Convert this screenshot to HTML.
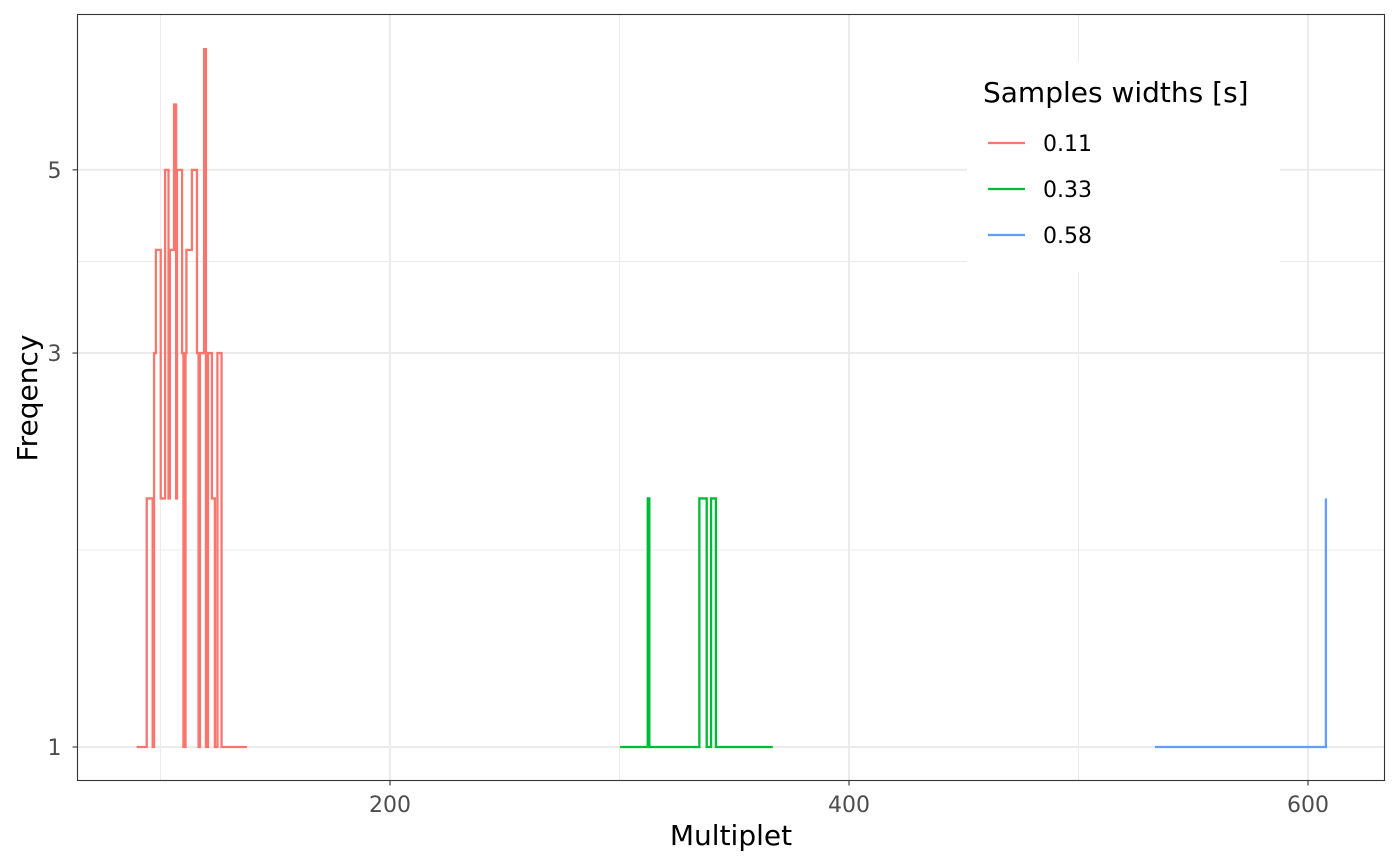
<!DOCTYPE html>
<html><head><meta charset="utf-8"><style>
body{margin:0;background:#fff;}
svg{display:block;font-family:"DejaVu Sans","Liberation Sans",sans-serif;}
</style></head><body>
<svg id="chart" width="1400" height="866">
<g id="grid"></g>
<g id="series"></g>
<rect x="77.5" y="14.5" width="1307" height="766" fill="none" stroke="#333" stroke-width="1.1"/>
<g id="axes"></g>
<text x="731" y="845" text-anchor="middle" font-size="28" fill="#000">Multiplet</text>
<text transform="translate(37,398) rotate(-90)" text-anchor="middle" font-size="28" fill="#000">Freqency</text>
<g>
<rect x="967" y="62" width="313" height="210" fill="#fff"/>
<text x="983" y="102" font-size="28" fill="#000">Samples widths [s]</text>
<g id="legend-entries"></g>
</g>
</svg>
<script>
const redX = [89.6,94.0,96.6,97.2,98.0,100.1,102.0,103.5,104.1,105.9,106.8,107.2,109.4,110.0,110.9,111.3,113.7,115.9,116.6,117.2,119.0,119.8,120.7,122.4,123.7,124.8,126.6,137.7];
const redY = [1,2,1,3,4,2,5,2,4,6,2,5,3,1,3,4,5,3,1,3,7,1,3,2,1,3,1,1];
const greenX = [300.2,312.3,313.0,334.8,338.0,339.9,342.0,366.8];
const greenY = [1,2,1,2,1,2,1,1];
const blueX = [533.3,607.8];
const blueY = [1,2];
const seriesLabels = ["0.11","0.33","0.58"];
const xTicks = [200,400,600];
const xMinor = [100,300,500];
const yTicks = [1,3,5];
const yMinor = [1.732,3.873];

const NS="http://www.w3.org/2000/svg";
const X0=77.5,X1=1384.5,Y0=14.5,Y1=780.5;
function xs(d){return 390+(d-200)*2.295;}
function ys(v){return 747-Math.log(v)*358.6;}
function mk(tag,attrs,parent){const e=document.createElementNS(NS,tag);for(const k in attrs)e.setAttribute(k,attrs[k]);parent.appendChild(e);return e;}
const grid=document.getElementById('grid');
xMinor.forEach(v=>{const l=mk('line',{x1:xs(v),x2:xs(v),y1:Y0,y2:Y1,stroke:'#ebebeb','stroke-width':1},grid);

});
yMinor.forEach(v=>{const l=mk('line',{x1:X0,x2:X1,y1:ys(v),y2:ys(v),stroke:'#ebebeb','stroke-width':1},grid);

});
xTicks.forEach(v=>{const l=mk('line',{x1:xs(v),x2:xs(v),y1:Y0,y2:Y1,stroke:'#ebebeb','stroke-width':2},grid);

});
yTicks.forEach(v=>{const l=mk('line',{x1:X0,x2:X1,y1:ys(v),y2:ys(v),stroke:'#ebebeb','stroke-width':2},grid);

});
const axes=document.getElementById('axes');
xTicks.forEach(v=>{const t=mk('line',{x1:xs(v),x2:xs(v),y1:Y1,y2:Y1+5,stroke:'#333','stroke-width':1.1},axes);


const tx=mk('text',{x:xs(v),y:812,'text-anchor':'middle','font-size':22,fill:'#4d4d4d'},axes);tx.textContent=v;

});
yTicks.forEach(v=>{const t=mk('line',{x1:X0-5,x2:X0,y1:ys(v),y2:ys(v),stroke:'#333','stroke-width':1.1},axes);


const tx=mk('text',{x:X0-16,y:ys(v)+8,'text-anchor':'end','font-size':22,fill:'#4d4d4d'},axes);tx.textContent=v;

});
function stepPath(xa,ya){let d='M'+xs(xa[0])+','+ys(ya[0]);for(let i=1;i<xa.length;i++){d+=' L'+xs(xa[i])+','+ys(ya[i-1])+' L'+xs(xa[i])+','+ys(ya[i]);}return d;}
const ser=document.getElementById('series');
const colors=['#F8766D','#00BA38','#619CFF'];
[[redX,redY],[greenX,greenY],[blueX,blueY]].forEach((s,i)=>{const p=mk('path',{d:stepPath(s[0],s[1]),fill:'none',stroke:colors[i],'stroke-width':2.3},ser);

});
const leg=document.getElementById('legend-entries');
seriesLabels.forEach((lab,i)=>{const y=143+i*46;
const l=mk('line',{x1:988,x2:1025,y1:y,y2:y,stroke:colors[i],'stroke-width':2.3},leg);


const t=mk('text',{x:1043,y:y+8,'font-size':22,fill:'#000'},leg);t.textContent=lab;

});
</script>
</body></html>
